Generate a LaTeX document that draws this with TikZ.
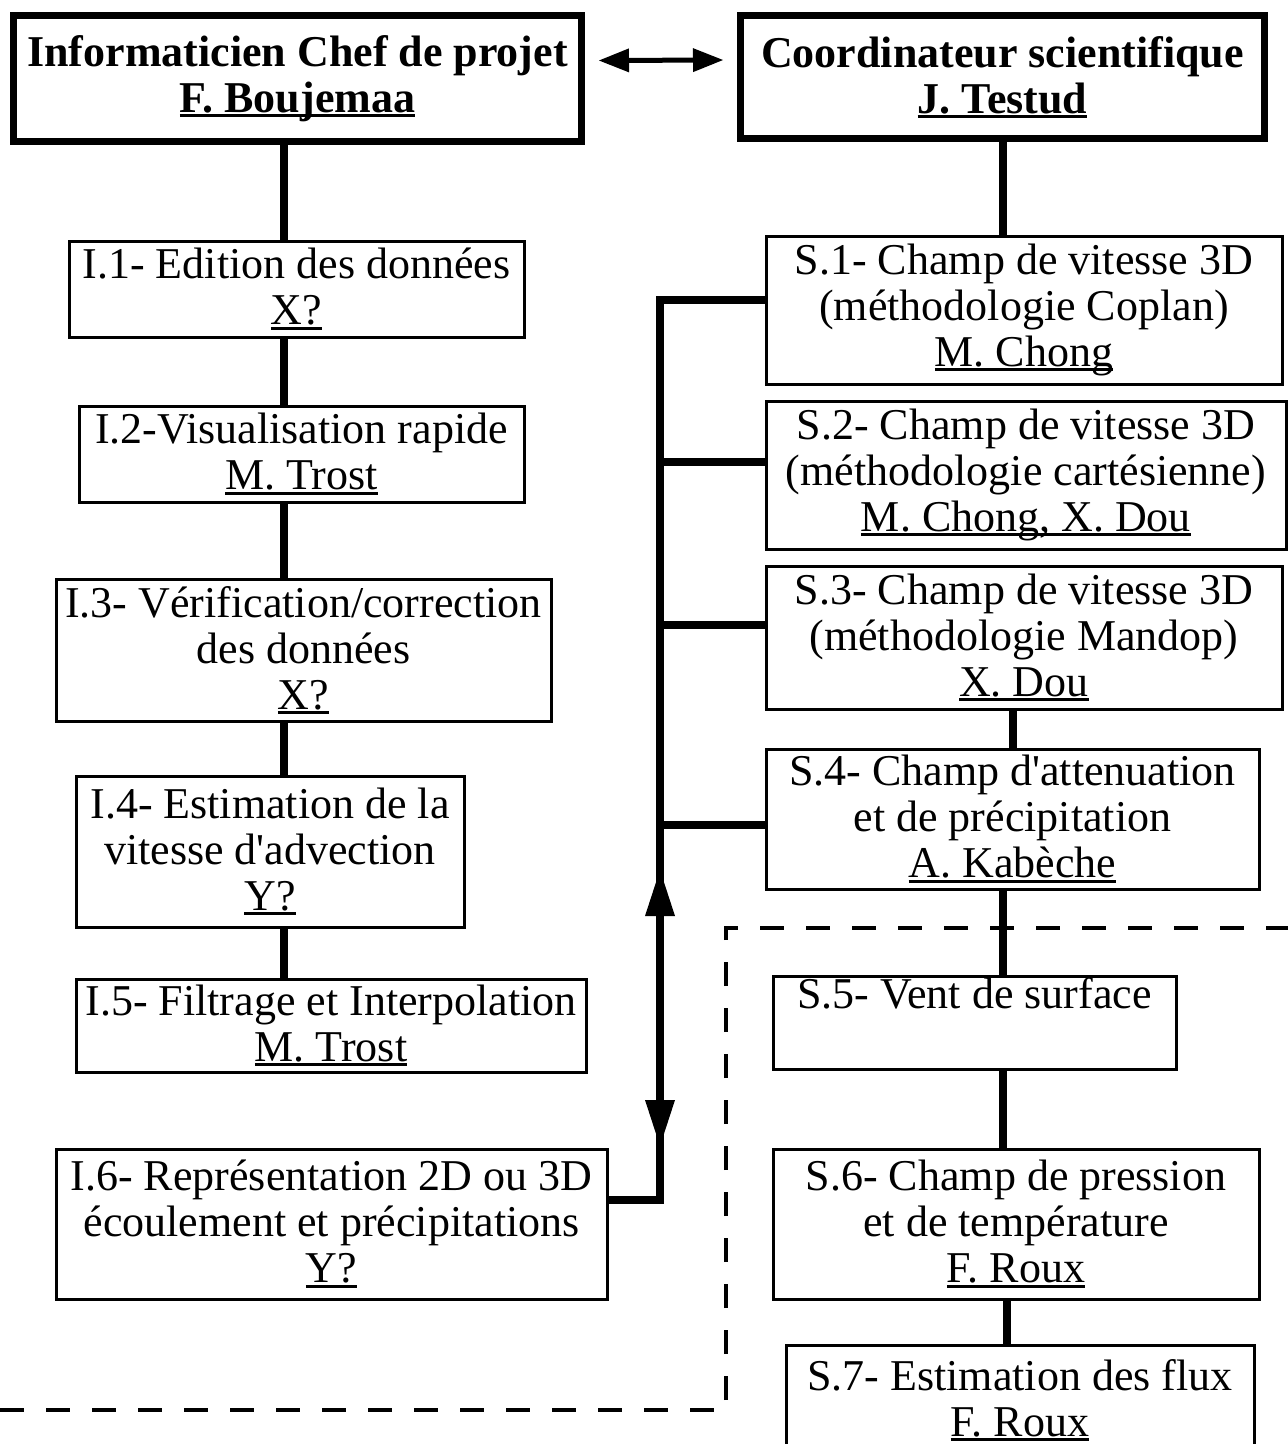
\documentclass[tikz,border=0pt]{standalone}
\usepackage{fontspec}
\setmainfont{Liberation Serif}
\usetikzlibrary{arrows.meta}
\newcommand\myul[1]{\setbox0\hbox{#1}\rlap{\rule[-0.11em]{\wd0}{0.07em}}\box0}
\begin{document}
\begin{tikzpicture}[x=1pt,y=-1pt,
  box/.style={draw, line width=3pt, inner sep=0pt, align=center, font=\fontsize{44}{46}\selectfont},
  head/.style={box, line width=7pt, font=\bfseries\fontsize{44}{46}\selectfont},
  conn/.style={line width=8pt},
  dashln/.style={line width=4.5pt, dash pattern=on 24pt off 22pt},
  tipA/.style={-{Triangle[length=46pt,width=30pt,line width=0pt]}},
  tipB/.style={{Triangle[length=30pt,width=24pt,line width=0pt]}-{Triangle[length=30pt,width=24pt,line width=0pt]}}]
\clip (0,0) rectangle (1288,1444);
\useasboundingbox (0,0) rectangle (1288,1444);

% dashed frame
\coordinate (d1) at (0,1410);
\coordinate (d2) at (726,1410);
\coordinate (d3) at (726,928);
\coordinate (d4) at (1300,928);
\draw[dashln] (d1) -- (d2) -- (d3) -- (d4);

% head boxes
\node[head, minimum width=568pt, minimum height=126pt] (T1) at (297.5,78.5) {Informaticien Chef de projet\\\myul{F. Boujemaa}};
\node[head, minimum width=524pt, minimum height=123pt] (T2) at (1002.5,77) {Coordinateur scientifique\\\myul{J. Testud}};

% left column
\node[box, minimum width=455pt, minimum height=96pt] (I1) at (296.5,289) {I.1- Edition des données\\\myul{X?}};
\node[box, minimum width=445pt, minimum height=96pt] (I2) at (301.5,454) {I.2-Visualisation rapide\\\myul{M. Trost}};
\node[box, minimum width=495pt, minimum height=142pt] (I3) at (303.5,650) {I.3- Vérification/correction\\des données\\\myul{X?}};
\node[box, minimum width=388pt, minimum height=151pt] (I4) at (270,851.5) {I.4- Estimation de la\\vitesse d\textquotesingle advection\\\myul{Y?}};
\node[box, minimum width=510pt, minimum height=93pt] (I5) at (331,1025.5) {I.5- Filtrage et Interpolation\\\myul{M. Trost}};
\node[box, minimum width=551pt, minimum height=150pt] (I6) at (331.5,1224) {I.6- Représentation 2D ou 3D\\écoulement et précipitations\\\myul{Y?}};

% right column
\node[box, minimum width=516pt, minimum height=148pt] (S1) at (1024,310) {S.1- Champ de vitesse 3D\\(méthodologie Coplan)\\\myul{M. Chong}};
\node[box, minimum width=520pt, minimum height=148pt] (S2) at (1026,475) {S.2- Champ de vitesse 3D\\(méthodologie cartésienne)\\\myul{M. Chong, X. Dou}};
\node[box, minimum width=516pt, minimum height=143pt] (S3) at (1024,637.5) {S.3- Champ de vitesse 3D\\(méthodologie Mandop)\\\myul{X. Dou}};
\node[box, minimum width=493pt, minimum height=140pt] (S4) at (1012.5,819) {S.4- Champ d\textquotesingle attenuation\\et de précipitation\\\myul{A. Kabèche}};
\node[box, minimum width=403pt, minimum height=93pt] (S5) at (974.5,1022.5) {S.5- Vent de surface\\\strut};
\node[box, minimum width=486pt, minimum height=150pt] (S6) at (1016,1224) {S.6- Champ de pression\\et de température\\\myul{F. Roux}};
\node[box, minimum width=468pt, minimum height=110pt] (S7) at (1020,1400) {S.7- Estimation des flux\\\myul{F. Roux}};

% left connectors
\coordinate (cl) at (284,0);
\draw[conn] (cl |- T1.south) -- (cl |- I1.north);
\draw[conn] (cl |- I1.south) -- (cl |- I2.north);
\draw[conn] (cl |- I2.south) -- (cl |- I3.north);
\draw[conn] (cl |- I3.south) -- (cl |- I4.north);
\draw[conn] (cl |- I4.south) -- (cl |- I5.north);

% right connectors
\coordinate (cr) at (1003,0);
\coordinate (cr2) at (1013,0);
\coordinate (cr3) at (1007,0);
\draw[conn] (cr |- T2.south) -- (cr |- S1.north);
\draw[conn] (cr2 |- S3.south) -- (cr2 |- S4.north);
\draw[conn] (cr |- S4.south) -- (cr |- S5.north);
\draw[conn] (cr |- S5.south) -- (cr |- S6.north);
\draw[conn] (cr3 |- S6.south) -- (cr3 |- S7.north);

% top double arrow
\draw[line width=5pt, tipB]
  ([xshift=14pt,yshift=18pt]T1.east) -- ([xshift=-14pt,yshift=17pt]T2.west);

% bus
\coordinate (b1) at (660,300);
\coordinate (b2) at (660,462);
\coordinate (b3) at (660,625);
\coordinate (b4) at (660,825);
\coordinate (b5) at (660,1200);
\draw[conn] (S1.west |- b1) -- (b1) -- (b5) -- (I6.east |- b5);
\draw[conn] (b2) -- (S2.west |- b2);
\draw[conn] (b3) -- (S3.west |- b3);
\draw[conn] (b4) -- (S4.west |- b4);
\coordinate (ua) at (660,920);
\coordinate (ut) at (660,870);
\coordinate (da) at (660,1098);
\coordinate (dt) at (660,1146);
\draw[conn, tipA] (ua) -- (ut);
\draw[conn, tipA] (da) -- (dt);
\end{tikzpicture}
\end{document}
